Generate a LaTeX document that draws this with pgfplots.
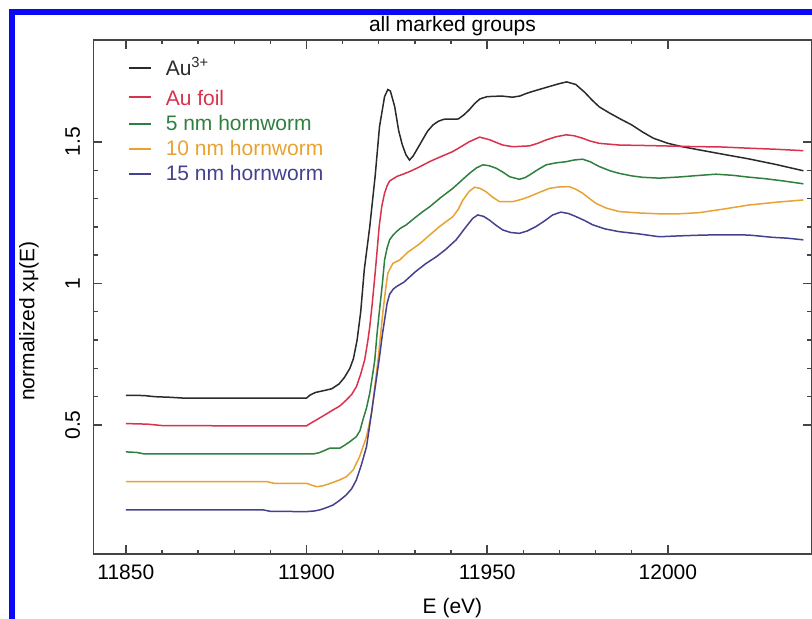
\documentclass[border=0pt]{standalone}
\usepackage{fontspec}
\setmainfont{Liberation Sans}
\usepackage{pgfplots}
\pgfplotsset{compat=1.18}
\definecolor{cK}{HTML}{2A2A2A}
\definecolor{cR}{HTML}{D8324C}
\definecolor{cG}{HTML}{2F7F3F}
\definecolor{cO}{HTML}{E8A232}
\definecolor{cB}{HTML}{44418E}
\definecolor{axc}{HTML}{454545}
\definecolor{frameblue}{HTML}{0A0AF5}
\begin{document}
\fontsize{10.5}{12.6}\selectfont
\begin{tikzpicture}
\begin{axis}[
  at={(46.65pt,32pt)}, anchor=south west,
  scale only axis, width=359.2pt, height=257pt,
  xmin=11841, xmax=12039.8, ymin=0.0442, ymax=1.86,
  scaled x ticks=false, scaled y ticks=false,
  axis line style={axc, line width=0.7pt},
  every tick/.style={axc, line width=0.7pt},
  major tick length=4.5pt, minor tick length=2.2pt,
  xtick={11850,11900,11950,12000}, xticklabels={11850,11900,11950,12000},
  minor x tick num=4,
  ytick={0.5,1,1.5}, yticklabels={0.5,1,1.5},
  minor y tick num=4,
  xticklabel style={anchor=base, font=\fontsize{10.5}{12.6}\selectfont},
  xticklabel shift=12.5pt,
  yticklabel style={rotate=90, anchor=base, font=\fontsize{10.5}{12.6}\selectfont},
  yticklabel shift=6.7pt,
  title={all marked groups},
  every axis title/.style={at={(axis description cs:0.5,1)}, anchor=base, yshift=4.5pt, font=\fontsize{10.5}{12.6}\selectfont},
  xlabel={E (eV)},
  xlabel style={at={(axis description cs:0.5,0)}, anchor=base, yshift=-29.5pt, font=\fontsize{10.5}{12.6}\selectfont},
  ylabel={normalized xμ(E)},
  ylabel style={at={(axis description cs:-0.0821,0.453)}, anchor=base, font=\fontsize{10.5}{12.6}\selectfont},
  legend image code/.code={\draw[#1, line width=0.8pt] (0pt,0pt) -- (11pt,0pt);},
  legend cell align=left,
  legend style={at={(axis description cs:0.048,0.969)}, anchor=north west,
    draw=none, fill=none, inner sep=0pt, row sep=2.3pt, column sep=6.5pt,
    font=\fontsize{10.5}{12.6}\selectfont, nodes={inner sep=0.5pt}},
  every axis plot/.append style={line width=0.75pt},
]
\addplot[cK] coordinates {
(11850,0.605) (11855,0.604) (11858,0.600) (11862,0.598) (11866,0.595) (11880,0.595)
(11895,0.595) (11900,0.595) (11901,0.606) (11902.5,0.615) (11905,0.622) (11907,0.628)
(11909,0.645) (11910.5,0.668) (11912,0.700) (11913,0.735) (11914,0.800) (11915,0.900)
(11916,1.050) (11917.5,1.200) (11919,1.380) (11920.2,1.554) (11921.6,1.660) (11922.5,1.685)
(11923.2,1.680) (11924.4,1.625) (11925.5,1.540) (11926.5,1.490) (11927.5,1.455) (11928.5,1.436)
(11929.5,1.450) (11930.5,1.472) (11932,1.505) (11933.5,1.538) (11935,1.560) (11936.5,1.573)
(11938,1.580) (11942,1.581) (11943.5,1.595) (11945,1.613) (11946.5,1.635) (11948,1.652)
(11950,1.660) (11954,1.662) (11957,1.658) (11959,1.662) (11961,1.672) (11963,1.680)
(11967,1.695) (11970,1.706) (11972,1.712) (11974.5,1.703) (11977,1.675) (11979,1.648)
(11981,1.624) (11984,1.601) (11987,1.580) (11990,1.560) (11993,1.535) (11996,1.513)
(12000,1.495) (12004,1.483) (12008.6,1.472) (12015,1.457) (12022.4,1.440) (12030,1.420)
(12037.5,1.398)
};
\addlegendentry{\textcolor{cK}{Au\textsuperscript{3+}}}
\addplot[cR, legend image code/.code={\draw[cR, line width=0.8pt] (0pt,0pt) -- (11pt,0pt); \path[draw=none, fill=none] (0pt,0pt) -- (0pt,5pt);}] coordinates {
(11850,0.505) (11856,0.503) (11860,0.498) (11880,0.497) (11900,0.497) (11901,0.505)
(11903,0.520) (11905,0.535) (11907.3,0.553) (11909.2,0.567) (11911,0.588) (11912.5,0.608)
(11913.8,0.635) (11915,0.680) (11916.1,0.730) (11917,0.800) (11917.5,0.847) (11918.2,0.930)
(11918.9,1.024) (11919.5,1.110) (11920.1,1.200) (11920.8,1.270) (11921.6,1.319) (11922.3,1.345)
(11923,1.362) (11924,1.370) (11925,1.378) (11926.5,1.385) (11928.5,1.395) (11931,1.410)
(11934,1.430) (11937,1.447) (11940.5,1.466) (11943,1.485) (11945.1,1.501) (11947.9,1.517)
(11950.6,1.508) (11952.5,1.498) (11954.3,1.489) (11957.1,1.483) (11961.7,1.486) (11964,1.495)
(11966.3,1.507) (11969,1.518) (11971.8,1.525) (11974,1.522) (11976.4,1.513) (11978.5,1.503)
(11981,1.495) (11986.5,1.489) (11995,1.487) (12005,1.484) (12015,1.482) (12022,1.478)
(12030,1.474) (12037.5,1.469)
};
\addlegendentry{\textcolor{cR}{\rule{0pt}{10pt}Au foil}}
\addplot[cG] coordinates {
(11850,0.405) (11853,0.403) (11855,0.398) (11880,0.398) (11902,0.398) (11903.5,0.402)
(11905,0.410) (11906.4,0.418) (11909.2,0.418) (11910.5,0.428) (11912,0.441) (11913.8,0.459)
(11914.8,0.480) (11915.6,0.518) (11916.6,0.560) (11917.5,0.612) (11918.2,0.670) (11918.9,0.730)
(11919.5,0.820) (11920.2,0.906) (11921,1.000) (11921.6,1.083) (11922.3,1.125) (11923,1.154)
(11923.9,1.170) (11924.9,1.183) (11926,1.195) (11927.6,1.207) (11930,1.232) (11932,1.252)
(11934.1,1.271) (11937,1.302) (11940.5,1.336) (11943,1.365) (11945.1,1.389) (11947,1.408)
(11948.8,1.419) (11950.5,1.416) (11952.5,1.407) (11954.5,1.392) (11956.2,1.377) (11958.9,1.368)
(11960.5,1.374) (11961.7,1.383) (11964,1.402) (11966.3,1.419) (11969,1.426) (11971.8,1.430)
(11974,1.436) (11976.4,1.439) (11978.5,1.430) (11981,1.413) (11984,1.398) (11986.5,1.389)
(11990,1.380) (11993,1.375) (11997.6,1.372) (12003,1.376) (12008,1.381) (12013.3,1.386)
(12018,1.382) (12022,1.376) (12027,1.370) (12032,1.362) (12037.5,1.352)
};
\addlegendentry{\textcolor{cG}{5 nm hornworm}}
\addplot[cO] coordinates {
(11850,0.300) (11889,0.300) (11891,0.294) (11900,0.294) (11901.5,0.287) (11902.8,0.282)
(11904.5,0.285) (11906.4,0.293) (11909.2,0.306) (11911,0.317) (11912.9,0.341) (11914.7,0.388)
(11916.6,0.459) (11918,0.541) (11918.9,0.635) (11919.8,0.730) (11920.5,0.820) (11921.2,0.906)
(11921.9,0.980) (11922.5,1.036) (11923.9,1.071) (11925.8,1.083) (11928,1.110) (11931.3,1.140)
(11934,1.170) (11936.8,1.201) (11940.5,1.236) (11942,1.262) (11943.3,1.295) (11945,1.325)
(11946.5,1.340) (11948,1.336) (11949.7,1.324) (11951.5,1.305) (11953.4,1.289) (11957.1,1.289)
(11959.5,1.297) (11961.7,1.307) (11964.5,1.322) (11967.2,1.336) (11970,1.341) (11972.7,1.342)
(11974.5,1.333) (11976.4,1.319) (11978.3,1.300) (11980.1,1.283) (11983,1.266) (11986.5,1.254)
(11992,1.249) (11997.6,1.246) (12003,1.246) (12008.6,1.250) (12015,1.262) (12022.4,1.277)
(12030,1.287) (12037.5,1.295)
};
\addlegendentry{\textcolor{cO}{10 nm hornworm}}
\addplot[cB] coordinates {
(11850,0.200) (11888,0.200) (11890,0.195) (11900,0.194) (11902,0.196) (11903.7,0.200)
(11905.5,0.208) (11907.3,0.217) (11909,0.232) (11911,0.253) (11912.5,0.275) (11913.8,0.306)
(11915.2,0.360) (11916.6,0.423) (11917.5,0.500) (11918.4,0.580) (11919.3,0.660) (11920.2,0.740)
(11921,0.820) (11921.6,0.870) (11922.3,0.930) (11923,0.962) (11924,0.980) (11924.9,0.989)
(11927,1.005) (11930,1.040) (11933,1.070) (11936,1.095) (11938.5,1.120) (11941.4,1.154)
(11944.2,1.201) (11946,1.230) (11947.4,1.242) (11949,1.237) (11950.6,1.224) (11952.5,1.205)
(11954.3,1.189) (11956.5,1.180) (11958.9,1.177) (11961,1.185) (11963.5,1.201) (11966,1.222)
(11968.1,1.242) (11970.4,1.252) (11972.5,1.247) (11974.6,1.236) (11977,1.222) (11979.2,1.207)
(11982.5,1.193) (11986.5,1.183) (11992,1.175) (11997.6,1.165) (12003,1.168) (12010,1.171)
(12017,1.172) (12022.4,1.171) (12028.9,1.163) (12033,1.160) (12037.5,1.154)
};
\addlegendentry{\textcolor{cB}{15 nm hornworm}}
\end{axis}
\draw[frameblue, line width=2.8pt] (6pt,-2pt) -- (6pt,303pt) -- (412pt,303pt);
\pgfresetboundingbox
\path[use as bounding box] (0,0) rectangle (406pt,309pt);
\end{tikzpicture}
\end{document}
